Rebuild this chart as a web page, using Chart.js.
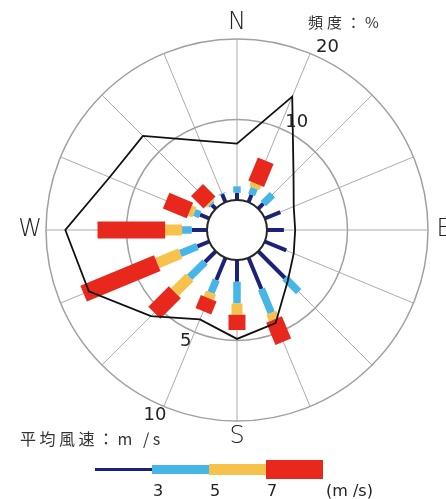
<!DOCTYPE html>
<html>
<head>
<meta charset="utf-8">
<script src="https://cdn.jsdelivr.net/npm/chart.js@4.4.1/dist/chart.umd.min.js"></script>
<style>
  body { margin: 0; background: #fff; }
  #wrap { position: relative; width: 446px; height: 499px; overflow: hidden; }
  #rose { position: absolute; left: 0; top: 0; }
  .txt { position: absolute; font-family: "Noto Sans CJK JP", sans-serif; color: #333; white-space: nowrap; line-height: 1; }
  .seg { position: absolute; }
  .lg { position: absolute; font-family: "DejaVu Sans", sans-serif; font-size: 16px; color: #222; line-height: 1; }
</style>
</head>
<body>
<div id="wrap">
  <canvas id="rose" width="446" height="499"></canvas>
  <div class="txt" style="left:308px; top:14px; font-size:15px; letter-spacing:4px;">頻度：%</div>
  <div class="txt" style="left:20px; top:430px; font-size:16px; letter-spacing:3.5px;">平均風速：m /s</div>
  <div id="legend"></div>
</div>
<script>
// 16 directions, clockwise from north
const directions = ['N', 'NNE', 'NE', 'ENE', 'E', 'ESE', 'SE', 'SSE', 'S', 'SSW', 'SW', 'WSW', 'W', 'WNW', 'NW', 'NNW'];
const dirLabels = ['N', '', '', '', 'E', '', '', '', 'S', '', '', '', 'W', '', '', ''];

// frequency (%) per direction, by wind speed class
const freqUnder3 = [0.9, 1.0, 0.9, 2.1, 2.1, 2.9, 4.7, 4.2, 2.7, 3.0, 1.9, 1.6, 1.9, 1.25, 0.7, 1.1];
const freq3to5   = [0.8, 0.9, 1.6, 0, 0, 0, 2.4, 3.2, 2.7, 1.7, 2.7, 2.3, 1.2, 0.75, 0.2, 0.1];
const freq5to7   = [0, 0.6, 0, 0, 0, 0, 0, 0.9, 1.4, 0.75, 2.6, 3.1, 2.1, 0.6, 0.2, 0];
const freqOver7  = [0, 3.1, 0, 0, 0, 0, 0, 3.0, 1.9, 1.75, 3.6, 9.9, 8.4, 3.2, 2.2, 0];

// average wind speed (m/s) per direction
const avgSpeed = [3.5, 7.1, 3.1, 1.95, 1.75, 1.95, 2.6, 4.4, 4.9, 4.15, 5.7, 8.1, 8.8, 6.7, 6.4, 4.15];

const freqTicks = [0, 10, 20];
const speedTicks = [5, 10];
const legendTicks = ['3', '5', '7'];

const classSeries = [freqUnder3, freq3to5, freq5to7, freqOver7];
const classColors = ['#1c2278', '#45b6e6', '#f7c24c', '#e8271d'];
const classWidths = [4, 7.5, 11, 17];

// calm circle takes the inner part of the radius
const calmRatio = 30 / 191;
const freqMax = 20, speedMax = 10;
const freqMin = -freqMax * calmRatio / (1 - calmRatio);
const speedMin = -speedMax * calmRatio / (1 - calmRatio);

const roseBars = {
  id: 'roseBars',
  beforeDatasetsDraw(chart) {
    const s = chart.scales.r;
    const ctx = chart.ctx;
    const r0 = s.getDistanceFromCenterForValue(0);
    ctx.save();
    ctx.fillStyle = '#fff';
    ctx.beginPath();
    ctx.arc(s.xCenter, s.yCenter, r0, 0, Math.PI * 2);
    ctx.fill();
    ctx.lineCap = 'butt';
    directions.forEach((d, i) => {
      let base = 0;
      classSeries.forEach((series, k) => {
        const v = series[i];
        if (!v) return;
        const a = s.getPointPositionForValue(i, base);
        const b = s.getPointPositionForValue(i, base + v);
        ctx.strokeStyle = classColors[k];
        ctx.lineWidth = classWidths[k];
        ctx.beginPath();
        ctx.moveTo(a.x, a.y);
        ctx.lineTo(b.x, b.y);
        ctx.stroke();
        base += v;
      });
    });
    ctx.strokeStyle = '#262626';
    ctx.lineWidth = 2;
    ctx.beginPath();
    ctx.arc(s.xCenter, s.yCenter, r0, 0, Math.PI * 2);
    ctx.stroke();
    ctx.restore();
  },
  afterDraw(chart) {
    const s = chart.scales.r;
    const sp = chart.scales.speed;
    const ctx = chart.ctx;
    ctx.save();
    ctx.fillStyle = '#222';
    ctx.textAlign = 'center';
    ctx.textBaseline = 'middle';
    ctx.font = '300 24px "DejaVu Sans"';
    dirLabels.forEach((t, i) => {
      if (!t) return;
      const p = s.getPointPosition(i, s.drawingArea + 16);
      ctx.fillText(t, p.x, p.y);
    });
    ctx.font = '18px "DejaVu Sans"';
    ctx.textAlign = 'left';
    freqTicks.forEach(v => {
      if (v === 0) return;
      const p = s.getPointPositionForValue(1, v);
      ctx.fillText(String(v), p.x + 6, p.y - 6);
    });
    ctx.textAlign = 'center';
    speedTicks.forEach(v => {
      const p = sp.getPointPositionForValue(9, v);
      ctx.fillText(String(v), p.x - 9, p.y + 9);
    });
    ctx.restore();
  }
};

new Chart(document.getElementById('rose'), {
  type: 'radar',
  data: {
    labels: directions,
    datasets: [{
      label: '平均風速',
      data: avgSpeed,
      rAxisID: 'speed',
      borderColor: '#111',
      borderWidth: 1.8,
      backgroundColor: 'transparent',
      fill: false,
      pointRadius: 0,
      tension: 0
    }]
  },
  options: {
    responsive: false,
    animation: false,
    layout: { padding: { left: 46, top: 39, right: 18, bottom: 78 } },
    plugins: { legend: { display: false }, tooltip: { enabled: false } },
    scales: {
      r: {
        min: freqMin,
        max: freqMax,
        afterBuildTicks: (sc) => {
          sc.ticks = freqTicks.map(v => ({ value: v }));
          sc.min = freqMin;
          sc.max = freqMax;
        },
        ticks: { display: false },
        pointLabels: { display: false },
        grid: {
          circular: true,
          color: (c) => (c.tick && c.tick.value === 0) ? 'transparent' : '#a0a0a0',
          lineWidth: 1.5
        },
        angleLines: { color: '#ababab', lineWidth: 1 }
      },
      speed: {
        type: 'radialLinear',
        axis: 'r',
        display: false,
        min: speedMin,
        max: speedMax,
        afterBuildTicks: (sc) => {
          sc.ticks = speedTicks.map(v => ({ value: v }));
          sc.min = speedMin;
          sc.max = speedMax;
        }
      }
    }
  },
  plugins: [roseBars]
});

// speed class legend bar
const legend = document.getElementById('legend');
const segLeft = 95, segW = 57, midY = 469.5;
const legendHeights = [3.5, 9, 11, 19];
classColors.forEach((c, k) => {
  const d = document.createElement('div');
  d.className = 'seg';
  d.style.left = (segLeft + k * segW) + 'px';
  d.style.width = segW + 'px';
  d.style.height = legendHeights[k] + 'px';
  d.style.top = (midY - legendHeights[k] / 2) + 'px';
  d.style.background = c;
  legend.appendChild(d);
});
legendTicks.forEach((t, k) => {
  const d = document.createElement('div');
  d.className = 'lg';
  d.style.left = (segLeft + (k + 1) * segW + 1) + 'px';
  d.style.top = '483px';
  d.textContent = t;
  legend.appendChild(d);
});
const unit = document.createElement('div');
unit.className = 'lg';
unit.style.left = '326px';
unit.style.top = '483px';
unit.textContent = '(m /s)';
legend.appendChild(unit);
</script>
</body>
</html>
